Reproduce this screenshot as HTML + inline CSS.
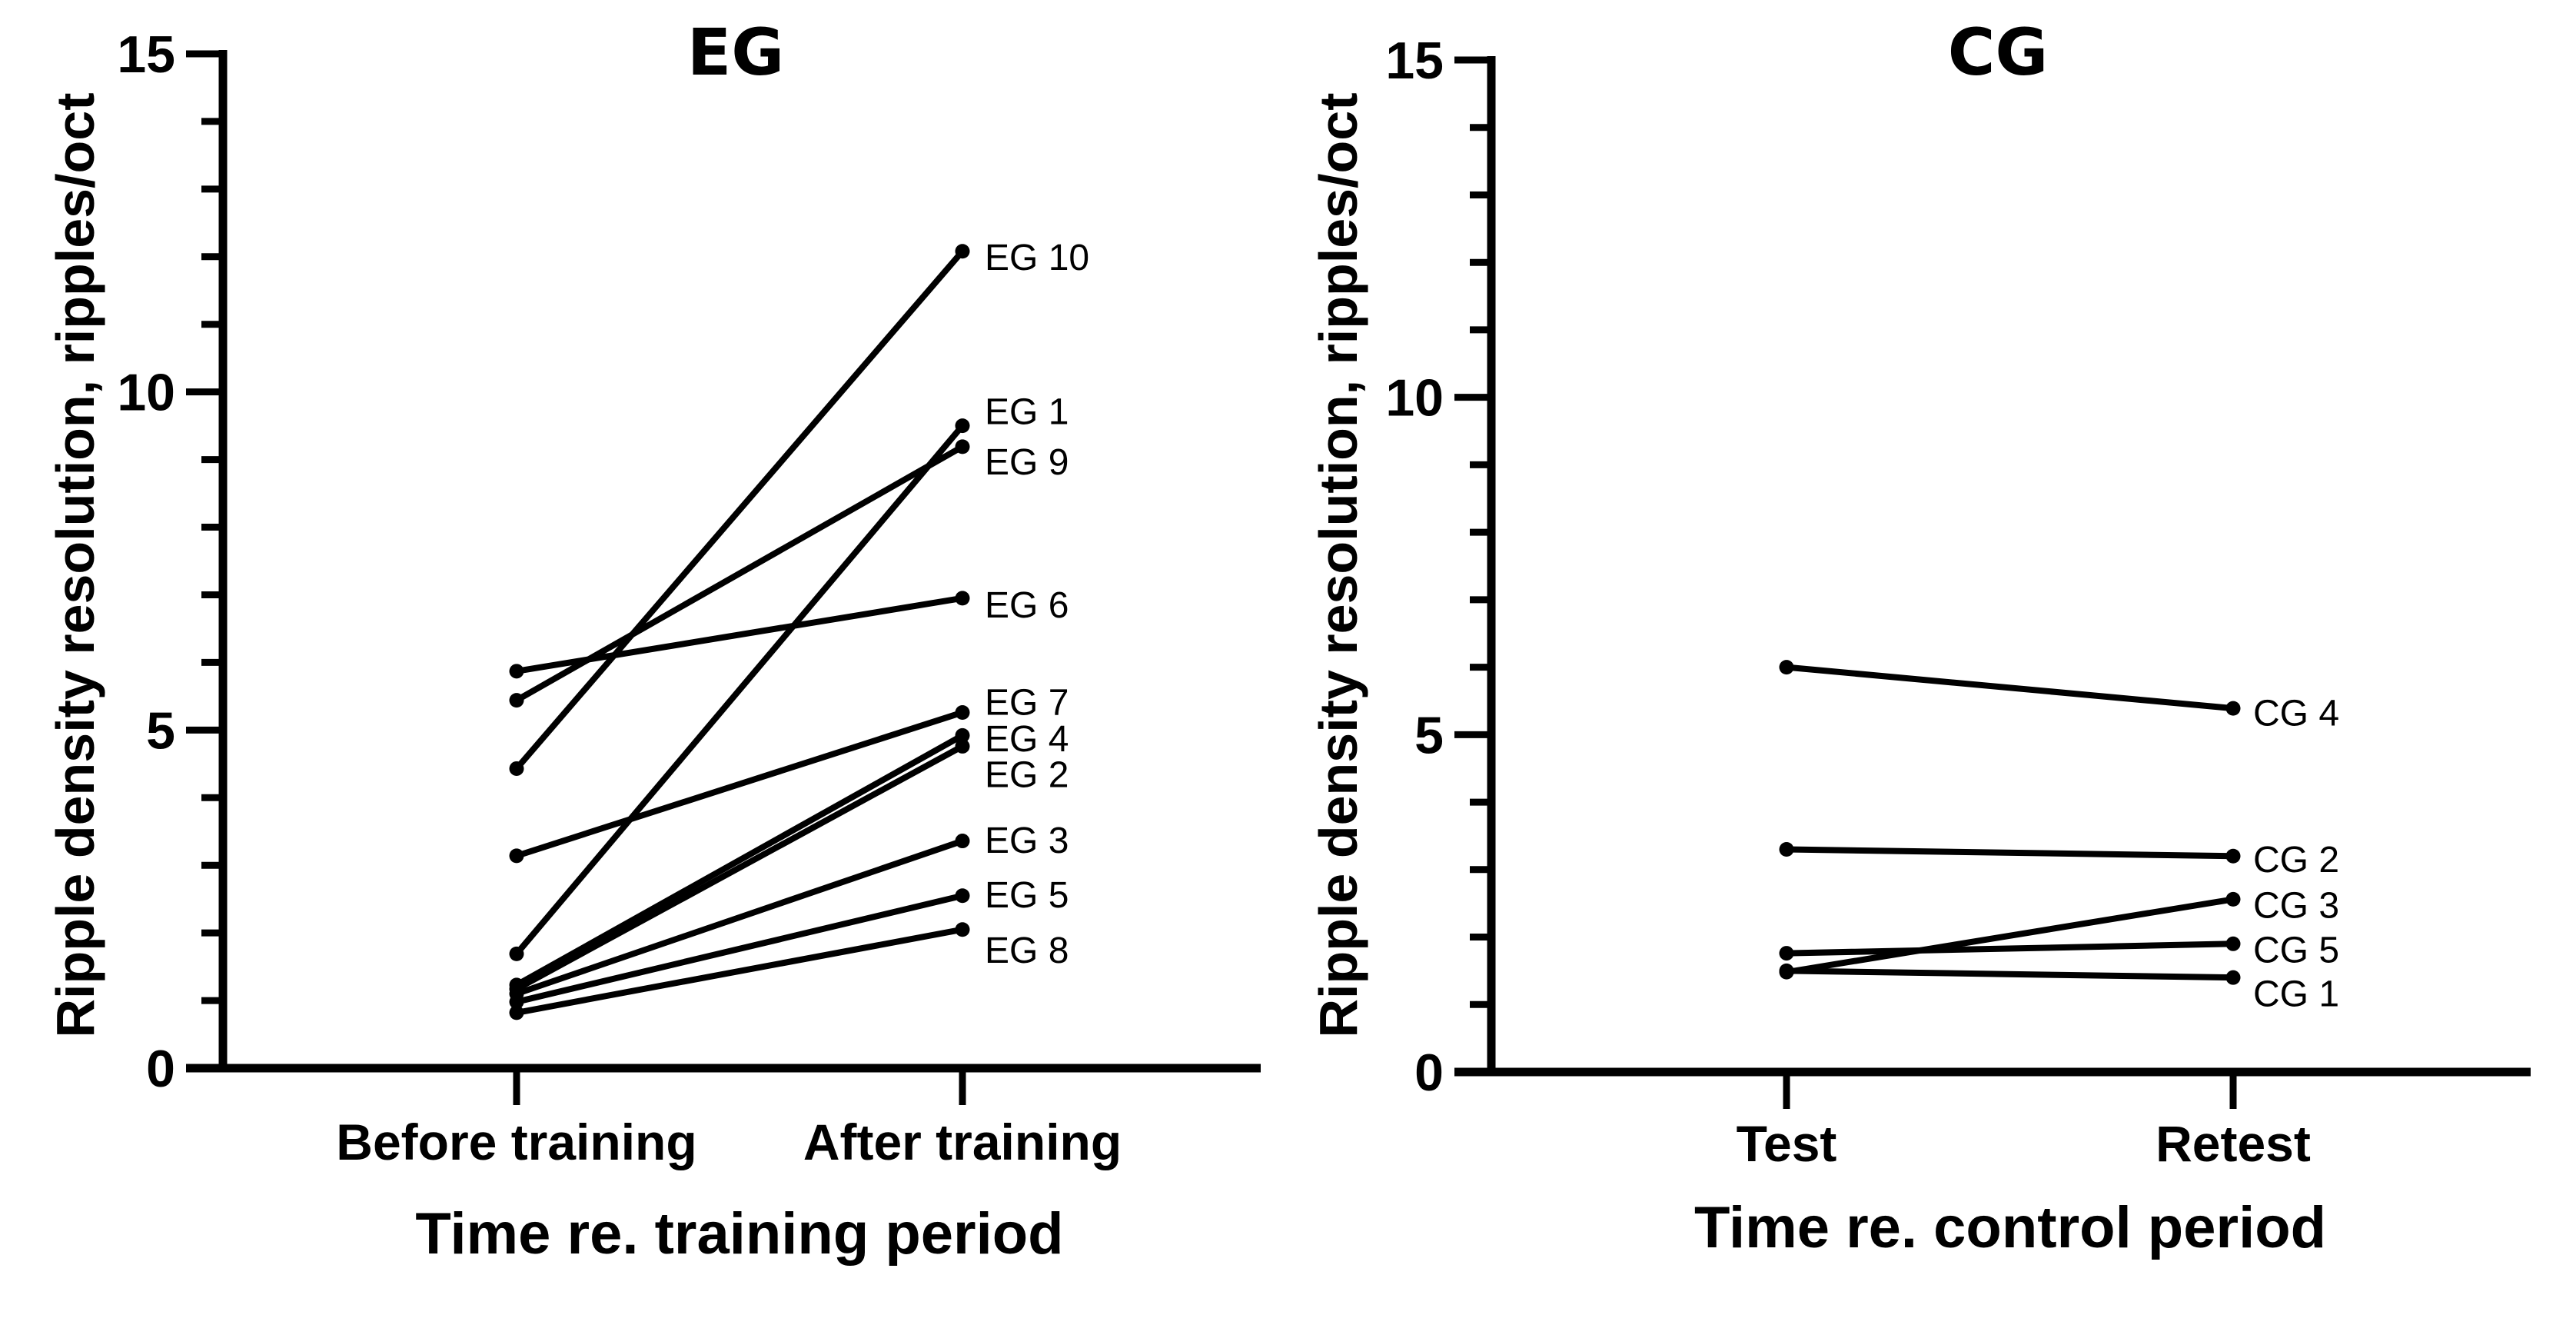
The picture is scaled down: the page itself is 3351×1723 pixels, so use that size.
<!DOCTYPE html>
<html><head><meta charset="utf-8">
<style>
html,body{margin:0;padding:0;background:#fff;}
svg{display:block;}
text{font-family:"Liberation Sans",Arial,sans-serif;fill:#000;}
</style></head>
<body>
<svg id="chart" width="3351" height="1723" viewBox="0 0 3351 1723" xmlns="http://www.w3.org/2000/svg">
<g id="left"></g>
<g id="right"></g>
</svg>
<script>
const yTicks = [0, 5, 10, 15];
const egCategories = ["Before training", "After training"];
const egNames = ["EG 10","EG 1","EG 9","EG 6","EG 7","EG 4","EG 2","EG 3","EG 5","EG 8"];
const egBefore = [4.43, 1.69, 5.44, 5.87, 3.14, 1.23, 1.17, 1.10, 0.98, 0.82];
const egAfter  = [12.08, 9.50, 9.19, 6.95, 5.26, 4.92, 4.76, 3.36, 2.55, 2.05];
const egLabelVal = [12.0, 9.72, 8.97, 6.86, 5.42, 4.88, 4.35, 3.38, 2.57, 1.75];
const cgCategories = ["Test", "Retest"];
const cgNames = ["CG 4","CG 2","CG 3","CG 5","CG 1"];
const cgTest   = [6.00, 3.30, 1.48, 1.76, 1.50];
const cgRetest = [5.39, 3.20, 2.56, 1.90, 1.40];
const cgLabelVal = [5.33, 3.16, 2.48, 1.82, 1.17];

const NS = "http://www.w3.org/2000/svg";
function mk(parent, tag, attrs, txt){
  const e = document.createElementNS(NS, tag);
  for (const k in attrs) e.setAttribute(k, attrs[k]);
  if (txt !== undefined) e.textContent = txt;
  parent.appendChild(e);
  return e;
}

function panel(g, cfg){
  const y = v => cfg.y0 - (cfg.y0 - cfg.y15) * v / 15;
  const xs = [cfg.xa, cfg.xb];
  for (let v = 0; v <= 15; v++) {
    const major = v % 5 === 0;
    const t = mk(g, "line", {x1: cfg.ax - (major ? 48 : 28), x2: cfg.ax, y1: y(v), y2: y(v), stroke: "#000", "stroke-width": 9});
    
    
  }
  yTicks.forEach(v => {
    const t = mk(g, "text", {x: cfg.ax - 62, y: y(v) + 24, "text-anchor": "end", "font-size": 68, "font-weight": "bold"}, String(v));
    
    
  });
  const ya = mk(g, "line", {x1: cfg.ax, x2: cfg.ax, y1: cfg.y15 - 5, y2: cfg.y0 + 5, stroke: "#000", "stroke-width": 11});
  
  
  const xa = mk(g, "line", {x1: cfg.ax - 48, x2: cfg.axEnd, y1: cfg.y0, y2: cfg.y0, stroke: "#000", "stroke-width": 11});
  
  
  cfg.cats.forEach((c, i) => {
    const t = mk(g, "line", {x1: xs[i], x2: xs[i], y1: cfg.y0, y2: cfg.y0 + 48, stroke: "#000", "stroke-width": 9});
    
    
    const l = mk(g, "text", {x: xs[i], y: cfg.catY, "text-anchor": "middle", "font-size": 66, "font-weight": "bold"}, c);
    
    
  });
  cfg.a.forEach((v, i) => {
    const ln = mk(g, "line", {x1: xs[0], y1: y(v), x2: xs[1], y2: y(cfg.b[i]), stroke: "#000", "stroke-width": 8, "stroke-linecap": "round"});
    
    
    [v, cfg.b[i]].forEach((vv, j) => {
      const d = mk(g, "circle", {cx: xs[j], cy: y(vv), r: 9.5, fill: "#000"});
      
      
    });
    const lb = mk(g, "text", {x: cfg.labX, y: y(cfg.labV[i]) + 17, "font-size": 48}, cfg.names[i]);
    
    
  });
  const tt = mk(g, "text", {x: cfg.titleX, y: 97, "text-anchor": "middle", "font-size": 84, "font-weight": "bold", style: "font-family:'DejaVu Sans','Liberation Sans',sans-serif"}, cfg.title);
  
  
  const xt = mk(g, "text", {x: cfg.xtX, y: cfg.xtY, "text-anchor": "middle", "font-size": 76, "font-weight": "bold"}, cfg.xTitle);
  
  
  const yt = mk(g, "text", {x: 0, y: 0, "text-anchor": "middle", "font-size": 70, "font-weight": "bold", transform: "translate(" + cfg.ytX + ",735) rotate(-90)"}, "Ripple density resolution, ripples/oct");
  
  
}

panel(document.getElementById("left"), {
  ax: 290, axEnd: 1640, y0: 1389, y15: 70, xa: 672, xb: 1252,
  cats: egCategories, a: egBefore, b: egAfter, names: egNames, labV: egLabelVal,
  labX: 1281, title: "EG", titleX: 957, xTitle: "Time re. training period", xtX: 962, xtY: 1630,
  ytX: 122, catY: 1508
});
panel(document.getElementById("right"), {
  ax: 1940, axEnd: 3292, y0: 1394, y15: 78, xa: 2324, xb: 2905,
  cats: cgCategories, a: cgTest, b: cgRetest, names: cgNames, labV: cgLabelVal,
  labX: 2931, title: "CG", titleX: 2599, xTitle: "Time re. control  period", xtX: 2615, xtY: 1622,
  ytX: 1765, catY: 1510
});
</script>
</body></html>
